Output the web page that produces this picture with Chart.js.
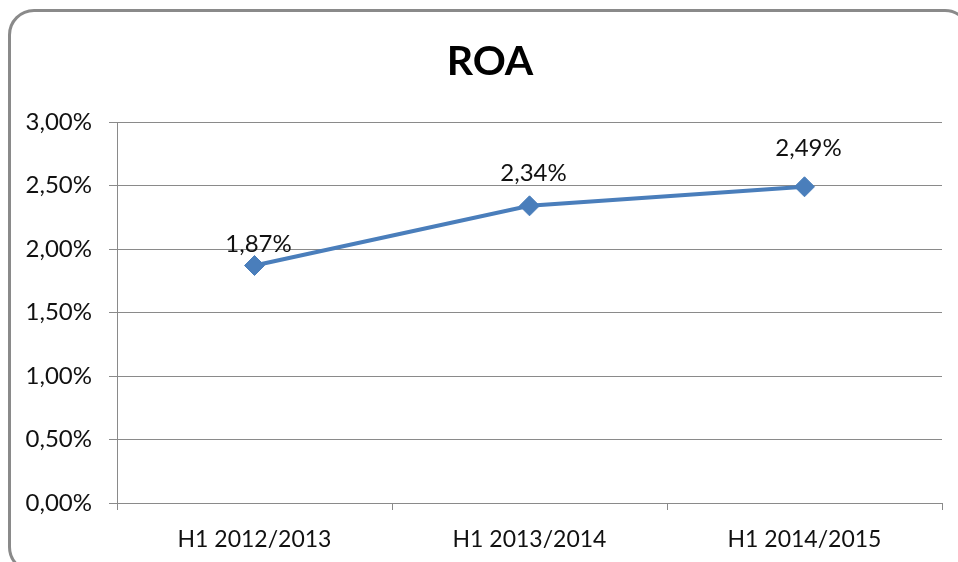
<!DOCTYPE html>
<html>
<head>
<meta charset="utf-8">
<script src="https://cdn.jsdelivr.net/npm/chart.js@4/dist/chart.umd.min.js"></script>
<style>
  html, body { margin: 0; padding: 0; background: #fff; overflow: hidden; }
  #wrap { position: relative; width: 958px; height: 562px; overflow: hidden; }
  #frame { position: absolute; left: 8px; top: 9px; width: 963px; height: 564px;
           border: 3px solid #8a8a8a; border-radius: 26px; box-sizing: border-box; }
  canvas { position: absolute; left: 0; top: 0; }
</style>
</head>
<body>
<div id="wrap">
  <div id="frame"></div>
  <canvas id="c" width="958" height="562"></canvas>
</div>
<script>
const categories = ['H1 2012/2013', 'H1 2013/2014', 'H1 2014/2015'];
const roaValues = [1.87, 2.34, 2.49];
const yTickValues = [0, 0.5, 1, 1.5, 2, 2.5, 3];
const chartTitle = 'ROA';

const fmt = v => v.toFixed(2).replace('.', ',') + '%';
const FONT = 'Lato, "Liberation Sans", sans-serif';

const titlePlugin = {
  id: 'roaTitle',
  afterDraw(chart) {
    const ctx = chart.ctx;
    ctx.save();
    ctx.font = 'bold 41px ' + FONT;
    ctx.fillStyle = '#000';
    ctx.textAlign = 'center';
    ctx.textBaseline = 'alphabetic';
    ctx.fillText(chartTitle, 490, 75);
    ctx.restore();
  }
};

const labelPlugin = {
  id: 'pointLabels',
  afterDatasetsDraw(chart) {
    const ctx = chart.ctx;
    const meta = chart.getDatasetMeta(0);
    const lift = [21, 33, 39];
    ctx.save();
    ctx.font = '24px ' + FONT;
    ctx.fillStyle = '#111';
    ctx.textAlign = 'center';
    ctx.textBaseline = 'middle';
    meta.data.forEach((pt, i) => {
      ctx.fillText(fmt(roaValues[i]), pt.x + 4, pt.y - lift[i]);
    });
    ctx.restore();
  }
};

new Chart(document.getElementById('c'), {
  type: 'line',
  data: {
    labels: categories,
    datasets: [{
      data: roaValues,
      borderColor: '#4a7ebb',
      backgroundColor: '#4a7ebb',
      borderWidth: 4,
      pointStyle: 'rectRot',
      pointRadius: 10,
      pointHoverRadius: 10,
      pointBorderWidth: 1,
      pointBorderColor: '#4a7ebb',
      tension: 0
    }]
  },
  options: {
    responsive: false,
    animation: false,
    events: [],
    layout: { padding: { left: 0, right: 16, top: 122, bottom: 0 } },
    plugins: {
      legend: { display: false },
      tooltip: { enabled: false },
      title: { display: false }
    },
    scales: {
      x: {
        type: 'category',
        offset: true,
        grid: { display: true, offset: true, drawOnChartArea: false, drawTicks: true, tickLength: 7, color: '#8a8a8a', lineWidth: 1 },
        border: { display: true, color: '#8a8a8a', width: 1 },
        ticks: { color: '#111', font: { family: FONT, size: 23 }, padding: 16, maxRotation: 0 },
        afterFit(scale) { scale.height = 59; }
      },
      y: {
        min: 0,
        max: 3,
        afterBuildTicks(scale) { scale.ticks = yTickValues.map(v => ({ value: v })); },
        grid: { color: '#8a8a8a', lineWidth: 1, drawTicks: true, tickLength: 8 },
        border: { display: true, color: '#8a8a8a', width: 1 },
        ticks: { color: '#111', font: { family: FONT, size: 24 }, padding: 17, callback: v => fmt(v) },
        afterFit(scale) { scale.width = 117; }
      }
    }
  },
  plugins: [labelPlugin, titlePlugin]
});
</script>
</body>
</html>
